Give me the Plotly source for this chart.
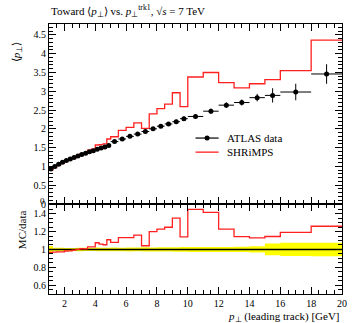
import plotly.graph_objects as go

# Bin edges of the leading-track pT histogram [GeV]
edges = ([1.0 + 0.25 * i for i in range(17)] +        # 1.0 .. 5.0
         [5.5, 6.0, 6.5, 7.0, 7.5, 8.0, 8.5, 9.0, 9.5, 10.0] +
         [11.0, 12.0, 13.0, 14.0, 15.0, 16.0] +
         [18.0, 20.0])

# ATLAS data: mean pT in the toward region per bin
data_y = [0.93, 1.00, 1.06, 1.11, 1.16, 1.20, 1.24, 1.28,
          1.32, 1.35, 1.39, 1.42, 1.46, 1.49, 1.52, 1.56,
          1.66, 1.73, 1.80, 1.86, 1.93, 2.00, 2.07, 2.13, 2.19, 2.27,
          2.33, 2.47, 2.63, 2.70, 2.83, 2.89,
          2.98, 3.46]
data_err = [0.035, 0.02, 0.02, 0.02, 0.02, 0.02, 0.02, 0.025,
            0.025, 0.025, 0.025, 0.025, 0.03, 0.03, 0.03, 0.03,
            0.035, 0.035, 0.04, 0.04, 0.045, 0.045, 0.05, 0.05, 0.055, 0.06,
            0.065, 0.07, 0.075, 0.08, 0.10, 0.19,
            0.22, 0.26]

# SHRiMPS prediction per bin
mc_y = [0.90, 0.97, 1.03, 1.08, 1.14, 1.18, 1.23, 1.28,
        1.33, 1.36, 1.43, 1.46, 1.57, 1.58, 1.60, 1.73,
        1.79, 1.96, 2.04, 2.16, 2.01, 2.40, 2.54, 2.66, 2.96, 2.59,
        3.38, 3.50, 3.23, 3.09, 3.20, 3.31,
        3.55, 4.36]

x_ticks = [2, 4, 6, 8, 10, 12, 14, 16, 18, 20]

centers = [(a + b) / 2 for a, b in zip(edges[:-1], edges[1:])]
half_w = [(b - a) / 2 for a, b in zip(edges[:-1], edges[1:])]
ratio = [m / d for m, d in zip(mc_y, data_y)]
rel_err = [e / d for e, d in zip(data_err, data_y)]

def step(vals):
    return list(vals) + [vals[-1]]

FONT = "Liberation Serif"
RED = "#ff2020"
RATIO_FRAC = 1 / 3   # share of the plot height used by the ratio panel

fig = go.Figure()

# Main panel
fig.add_trace(go.Scatter(x=edges, y=step(mc_y), mode="lines", line_shape="hv",
                         line=dict(color=RED, width=1.3), xaxis="x2", yaxis="y2",
                         showlegend=False))
fig.add_trace(go.Scatter(x=centers, y=data_y, mode="markers",
                         marker=dict(color="black", size=5),
                         error_x=dict(type="data", array=half_w, color="black", thickness=1, width=0),
                         error_y=dict(type="data", array=data_err, color="black", thickness=1, width=0),
                         xaxis="x2", yaxis="y2", showlegend=False))

# Ratio panel: data uncertainty band, data line, MC/data
fig.add_trace(go.Scatter(x=edges, y=step([1 - r for r in rel_err]), mode="lines", line_shape="hv",
                         line=dict(width=0, color="#ffff00"), xaxis="x", yaxis="y", showlegend=False))
fig.add_trace(go.Scatter(x=edges, y=step([1 + r for r in rel_err]), mode="lines", line_shape="hv",
                         line=dict(width=0, color="#ffff00"), fill="tonexty", fillcolor="#ffff00",
                         xaxis="x", yaxis="y", showlegend=False))
fig.add_trace(go.Scatter(x=edges, y=step([d / d for d in data_y]), mode="lines", line_shape="hv",
                         line=dict(color="black", width=1.5), xaxis="x", yaxis="y", showlegend=False))
fig.add_trace(go.Scatter(x=edges, y=step(ratio), mode="lines", line_shape="hv",
                         line=dict(color=RED, width=1.3), xaxis="x", yaxis="y", showlegend=False))

axis_common = dict(showline=True, linecolor="black", linewidth=1, mirror="allticks",
                   ticks="inside", ticklen=7, tickwidth=1, tickcolor="black",
                   showgrid=False, zeroline=False,
                   tickfont=dict(family=FONT, size=10, color="black"))

fig.update_layout(
    width=355, height=323,
    margin=dict(l=49, r=8, t=24, b=29),
    plot_bgcolor="white", paper_bgcolor="white",
    xaxis=dict(range=[1, 20], domain=[0, 1], anchor="y", tickvals=x_ticks,
               minor=dict(ticks="inside", dtick=0.5, tick0=0, ticklen=4, tickcolor="black"),
               **axis_common),
    xaxis2=dict(range=[1, 20], domain=[0, 1], anchor="y2", matches="x", tickvals=x_ticks,
                showticklabels=False,
                minor=dict(ticks="inside", dtick=0.5, tick0=0, ticklen=4, tickcolor="black"),
                **axis_common),
    yaxis=dict(range=[0.5, 1.51], domain=[0, RATIO_FRAC], anchor="x", tick0=0, dtick=0.2,
               minor=dict(ticks="inside", dtick=0.05, tick0=0, ticklen=4, tickcolor="black"),
               **axis_common),
    yaxis2=dict(range=[0, 4.79], domain=[RATIO_FRAC, 1], anchor="x2", tick0=0, dtick=0.5,
                minor=dict(ticks="inside", dtick=0.1, tick0=0, ticklen=4, tickcolor="black"),
                **axis_common),
)

ann_font = dict(family=FONT, size=11, color="black")
fig.add_annotation(text="Toward ⟨<i>p</i><sub>⊥</sub>⟩ vs. <i>p</i><sub>⊥</sub><sup>trk1</sup>, √<i>s</i> = 7 TeV",
                   xref="paper", yref="paper", x=0, y=1, xanchor="left", yanchor="bottom",
                   yshift=3, showarrow=False, font=ann_font)
fig.add_annotation(text="⟨<i>p</i><sub>⊥</sub>⟩", xref="paper", yref="paper",
                   x=-0.14, y=0.945, textangle=-90, showarrow=False, font=ann_font)
fig.add_annotation(text="MC/data", xref="paper", yref="paper",
                   x=-0.12, y=0.16, textangle=-90, showarrow=False, font=ann_font)
fig.add_annotation(text="<i>p</i><sub>⊥</sub> (leading track) [GeV]", xref="paper", yref="paper",
                   x=1, y=-0.085, xanchor="right", yanchor="middle", showarrow=False, font=ann_font)
# Zero label of the main panel, sitting on the shared panel border
fig.add_annotation(text="0", xref="paper", yref="paper", x=0, y=RATIO_FRAC,
                   xanchor="right", yanchor="middle", xshift=-2, yshift=3,
                   showarrow=False, font=dict(family=FONT, size=9, color="black"))

# Legend
fig.add_shape(type="line", xref="x2", yref="y2", x0=10.5, x1=12.0, y0=1.755, y1=1.755,
              line=dict(color="black", width=1.2))
fig.add_trace(go.Scatter(x=[11.25], y=[1.755], mode="markers", marker=dict(color="black", size=5),
                         xaxis="x2", yaxis="y2", showlegend=False, hoverinfo="skip"))
fig.add_shape(type="line", xref="x2", yref="y2", x0=10.5, x1=12.0, y0=1.38, y1=1.38,
              line=dict(color=RED, width=1.3))
fig.add_annotation(text="ATLAS data", xref="x2", yref="y2", x=12.4, y=1.755,
                   xanchor="left", yanchor="middle", showarrow=False, font=ann_font)
fig.add_annotation(text="SHRiMPS", xref="x2", yref="y2", x=12.4, y=1.38,
                   xanchor="left", yanchor="middle", showarrow=False, font=ann_font)

fig.write_html("out.html")
